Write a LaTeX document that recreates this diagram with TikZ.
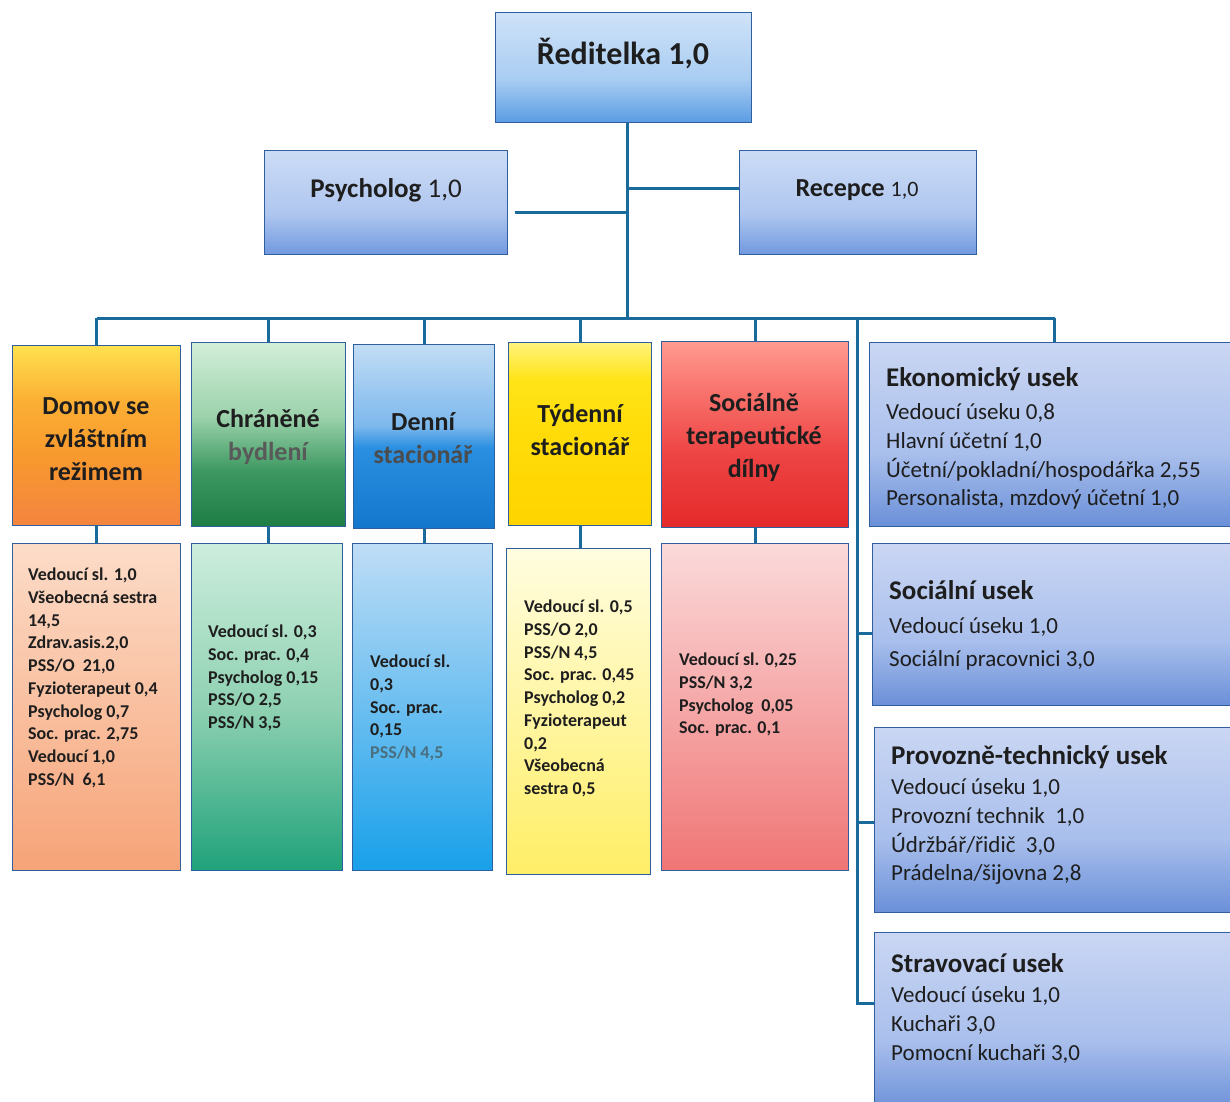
\documentclass[tikz,border=0pt]{standalone}
\usepackage{fontspec}
\setmainfont{Carlito}
\usetikzlibrary{calc}
\definecolor{borderc}{HTML}{2F5F9E}
\definecolor{connc}{HTML}{1B6A9C}
\definecolor{txt}{HTML}{1E1E1E}
% top boxes
\definecolor{dirT}{HTML}{CFE2F8}\definecolor{dirM}{HTML}{A9CDF2}\definecolor{dirB}{HTML}{5A9CE4}
\definecolor{psT}{HTML}{CCDCF6}\definecolor{psM}{HTML}{AFC6EF}\definecolor{psB}{HTML}{7199DF}
\definecolor{rtT}{HTML}{CAD6F3}\definecolor{rtM}{HTML}{A9BFEC}\definecolor{rtB}{HTML}{6A8FD8}
% headers
\definecolor{doA}{HTML}{FFE14F}\definecolor{doB}{HTML}{FBB034}\definecolor{doC}{HTML}{F89A2E}\definecolor{doD}{HTML}{F4843F}
\definecolor{chA}{HTML}{D2EED8}\definecolor{chB}{HTML}{9CD2AC}\definecolor{chC}{HTML}{3C9860}\definecolor{chD}{HTML}{1E7C45}
\definecolor{deA}{HTML}{C2DDF5}\definecolor{deB}{HTML}{7DB8EC}\definecolor{deC}{HTML}{2A8FE0}\definecolor{deD}{HTML}{1378CC}
\definecolor{tyA}{HTML}{FFF27A}\definecolor{tyB}{HTML}{FFE418}\definecolor{tyC}{HTML}{FFDC08}\definecolor{tyD}{HTML}{FFD400}
\definecolor{soA}{HTML}{FF9A90}\definecolor{soB}{HTML}{F76E68}\definecolor{soC}{HTML}{EE4444}\definecolor{soD}{HTML}{E42A2A}
% bodies
\definecolor{dbA}{HTML}{FCDCC8}\definecolor{dbB}{HTML}{F6A377}
\definecolor{cbA}{HTML}{CDEEDD}\definecolor{cbM}{HTML}{8FD1B2}\definecolor{cbB}{HTML}{1FA27A}
\definecolor{ebA}{HTML}{BFDDF6}\definecolor{ebB}{HTML}{18A0EA}
\definecolor{tbA}{HTML}{FFFDE0}\definecolor{tbB}{HTML}{FFEE66}
\definecolor{sbA}{HTML}{FBDADA}\definecolor{sbB}{HTML}{F07575}
\definecolor{denpss}{HTML}{4A6F7E}
\pgfdeclareverticalshading{shDir}{100bp}{color(0bp)=(dirB); color(25bp)=(dirB); color(45bp)=(dirM); color(75bp)=(dirT); color(100bp)=(dirT)}
\pgfdeclareverticalshading{shPs}{100bp}{color(0bp)=(psB); color(25bp)=(psB); color(45bp)=(psM); color(75bp)=(psT); color(100bp)=(psT)}
\pgfdeclareverticalshading{shRt}{100bp}{color(0bp)=(rtB); color(25bp)=(rtB); color(45bp)=(rtM); color(75bp)=(rtT); color(100bp)=(rtT)}
\pgfdeclareverticalshading{shDo}{100bp}{color(0bp)=(doD); color(25bp)=(doD); color(45bp)=(doC); color(60bp)=(doB); color(75bp)=(doA); color(100bp)=(doA)}
\pgfdeclareverticalshading{shCh}{100bp}{color(0bp)=(chD); color(25bp)=(chD); color(40bp)=(chC); color(55bp)=(chB); color(75bp)=(chA); color(100bp)=(chA)}
\pgfdeclareverticalshading{shDe}{100bp}{color(0bp)=(deD); color(25bp)=(deD); color(47bp)=(deC); color(53bp)=(deB); color(75bp)=(deA); color(100bp)=(deA)}
\pgfdeclareverticalshading{shTy}{100bp}{color(0bp)=(tyD); color(25bp)=(tyD); color(50bp)=(tyC); color(65bp)=(tyB); color(75bp)=(tyA); color(100bp)=(tyA)}
\pgfdeclareverticalshading{shSo}{100bp}{color(0bp)=(soD); color(25bp)=(soD); color(45bp)=(soC); color(60bp)=(soB); color(75bp)=(soA); color(100bp)=(soA)}
\pgfdeclareverticalshading{shDb}{100bp}{color(0bp)=(dbB); color(25bp)=(dbB); color(75bp)=(dbA); color(100bp)=(dbA)}
\pgfdeclareverticalshading{shCb}{100bp}{color(0bp)=(cbB); color(25bp)=(cbB); color(50bp)=(cbM); color(75bp)=(cbA); color(100bp)=(cbA)}
\pgfdeclareverticalshading{shEb}{100bp}{color(0bp)=(ebB); color(25bp)=(ebB); color(75bp)=(ebA); color(100bp)=(ebA)}
\pgfdeclareverticalshading{shTb}{100bp}{color(0bp)=(tbB); color(25bp)=(tbB); color(75bp)=(tbA); color(100bp)=(tbA)}
\pgfdeclareverticalshading{shSb}{100bp}{color(0bp)=(sbB); color(25bp)=(sbB); color(75bp)=(sbA); color(100bp)=(sbA)}
\begin{document}
\begin{tikzpicture}[x=1pt,y=-1pt,
  box/.style={draw=borderc, line width=1.4pt, anchor=north west, inner sep=0pt},
  conn/.style={draw=connc, line width=3pt},
  hdr/.style={font=\fontsize{26}{33}\selectfont\bfseries, align=center, text=txt, inner sep=0pt},
  bodytxt/.style={font=\fontsize{18}{22.7}\selectfont\bfseries, align=left, text=txt, anchor=north west, inner sep=0pt},
  righttxt/.style={font=\fontsize{23}{28.7}\selectfont, align=left, text=txt, anchor=north west, inner sep=0pt}]
\useasboundingbox (0,0) rectangle (1230,1101);
\fill[white] (0,0) rectangle (1230,1101);
% top level
\node[box, shading=shDir, minimum width=256pt, minimum height=110pt] (dir) at (495,12) {};
\node[box, shading=shPs, minimum width=243pt, minimum height=104pt] (psy) at (264,150) {};
\node[box, shading=shPs, minimum width=237pt, minimum height=104pt] (rec) at (739,150) {};
\node[font=\fontsize{32}{38}\selectfont\bfseries, text=txt] (dirL) at (623,54) {Ředitelka 1,0};
\node[font=\fontsize{27}{32}\selectfont, text=txt] (psyL) at (386,190) {\textbf{Psycholog} 1,0};
\node[font=\fontsize{26}{32}\selectfont, text=txt] (recL) at (857,190) {\textbf{Recepce} {\fontsize{22}{26}\selectfont 1,0}};
% column headers
\node[box, shading=shDo, minimum width=168pt, minimum height=180pt] (domH) at (12,345) {};
\node[box, shading=shCh, minimum width=154pt, minimum height=184pt] (chrH) at (191,342) {};
\node[box, shading=shDe, minimum width=141pt, minimum height=184pt] (denH) at (353,344) {};
\node[box, shading=shTy, minimum width=143pt, minimum height=183pt] (tydH) at (508,342) {};
\node[box, shading=shSo, minimum width=187pt, minimum height=186pt] (socH) at (661,341) {};
\node[hdr] (domHL) at (96,439) {Domov se\\zvláštním\\režimem};
\node[hdr] (chrHL) at (268,437) {Chráněné\\{\color{black!65}bydlení}};
\node[hdr] (denHL) at (423,438) {Denní\\{\color{black!70}stacionář}};
\node[hdr] (tydHL) at (580,430) {Týdenní\\stacionář};
\node[hdr] (socHL) at (754,437) {Sociálně\\terapeutické\\dílny};
% column bodies
\node[box, shading=shDb, minimum width=168pt, minimum height=327pt] (domB) at (12,543) {};
\node[box, shading=shCb, minimum width=151pt, minimum height=327pt] (chrB) at (191,543) {};
\node[box, shading=shEb, minimum width=140pt, minimum height=327pt] (denB) at (352,543) {};
\node[box, shading=shTb, minimum width=144pt, minimum height=326pt] (tydB) at (506,548) {};
\node[box, shading=shSb, minimum width=187pt, minimum height=327pt] (socB) at (661,543) {};
\node[bodytxt] (domBL) at (28,568) {Vedoucí sl. 1,0\\Všeobecná sestra\\14,5\\Zdrav.asis.2,0\\PSS/O\ \ 21,0\\Fyzioterapeut 0,4\\Psycholog 0,7\\Soc. prac. 2,75\\Vedoucí 1,0\\PSS/N\ \ 6,1};
\node[bodytxt] (chrBL) at (208,625) {Vedoucí sl. 0,3\\Soc. prac. 0,4\\Psycholog 0,15\\PSS/O 2,5\\PSS/N 3,5};
\node[bodytxt] (denBL) at (370,655) {Vedoucí sl.\\0,3\\Soc. prac.\\0,15\\{\color{denpss}PSS/N 4,5}};
\node[bodytxt] (tydBL) at (524,600) {Vedoucí sl. 0,5\\PSS/O 2,0\\PSS/N 4,5\\Soc. prac. 0,45\\Psycholog 0,2\\Fyzioterapeut\\0,2\\Všeobecná\\sestra 0,5};
\node[bodytxt] (socBL) at (679,653) {Vedoucí sl. 0,25\\PSS/N 3,2\\Psycholog\ \ 0,05\\Soc. prac. 0,1};
% right boxes
\node[box, shading=shRt, minimum width=370pt, minimum height=184pt] (eko) at (869,342) {};
\node[box, shading=shRt, minimum width=370pt, minimum height=162pt] (soc) at (872,543) {};
\node[box, shading=shRt, minimum width=370pt, minimum height=185pt] (pro) at (874,727) {};
\node[box, shading=shRt, minimum width=370pt, minimum height=180pt] (str) at (874,932) {};
\node[righttxt] (ekoL) at (886,367) {{\fontsize{27}{30}\selectfont\bfseries Ekonomický usek}\\[5pt]Vedoucí úseku 0,8\\Hlavní účetní 1,0\\Účetní/pokladní/hospodářka 2,55\\Personalista, mzdový účetní 1,0};
\node[righttxt] (socL) at (889,580) {{\fontsize{27}{30}\selectfont\bfseries Sociální usek}\\[6pt]Vedoucí úseku 1,0\\[4pt]Sociální pracovnici 3,0};
\node[righttxt] (proL) at (891,745) {{\fontsize{27}{30}\selectfont\bfseries Provozně-technický usek}\\[2pt]Vedoucí úseku 1,0\\Provozní technik\ \ 1,0\\Údržbář/řidič\ \ 3,0\\Prádelna/šijovna 2,8};
\node[righttxt] (strL) at (891,953) {{\fontsize{27}{30}\selectfont\bfseries Stravovací usek}\\[2pt]Vedoucí úseku 1,0\\Kuchaři 3,0\\Pomocní kuchaři 3,0};
% connectors
\coordinate (trunk) at (627,318);
\coordinate (pc) at (515,212);
\coordinate (spine) at (857,318);
\draw[conn] (trunk |- dir.south) -- (trunk);
\draw[conn] (pc) -- (pc -| trunk);
\draw[conn] (rec.west |- 0,188) -- (trunk |- 0,188);
\draw[conn] (domH.north |- trunk) -- (eko.north |- trunk);
\foreach \n in {domH,chrH,denH,tydH,socH,eko} \draw[conn] (\n.north) -- (\n.north |- trunk);
\foreach \n in {dom,chr,den,tyd,soc} \draw[conn] (\n H.south) -- (\n H.south |- \n B.north);
\draw[conn] (spine) -- (spine |- 0,1003) -- (str.west |- 0,1003);
\draw[conn] (spine |- 0,633) -- (soc.west |- 0,633);
\draw[conn] (spine |- 0,822) -- (pro.west |- 0,822);
\end{tikzpicture}
\end{document}
